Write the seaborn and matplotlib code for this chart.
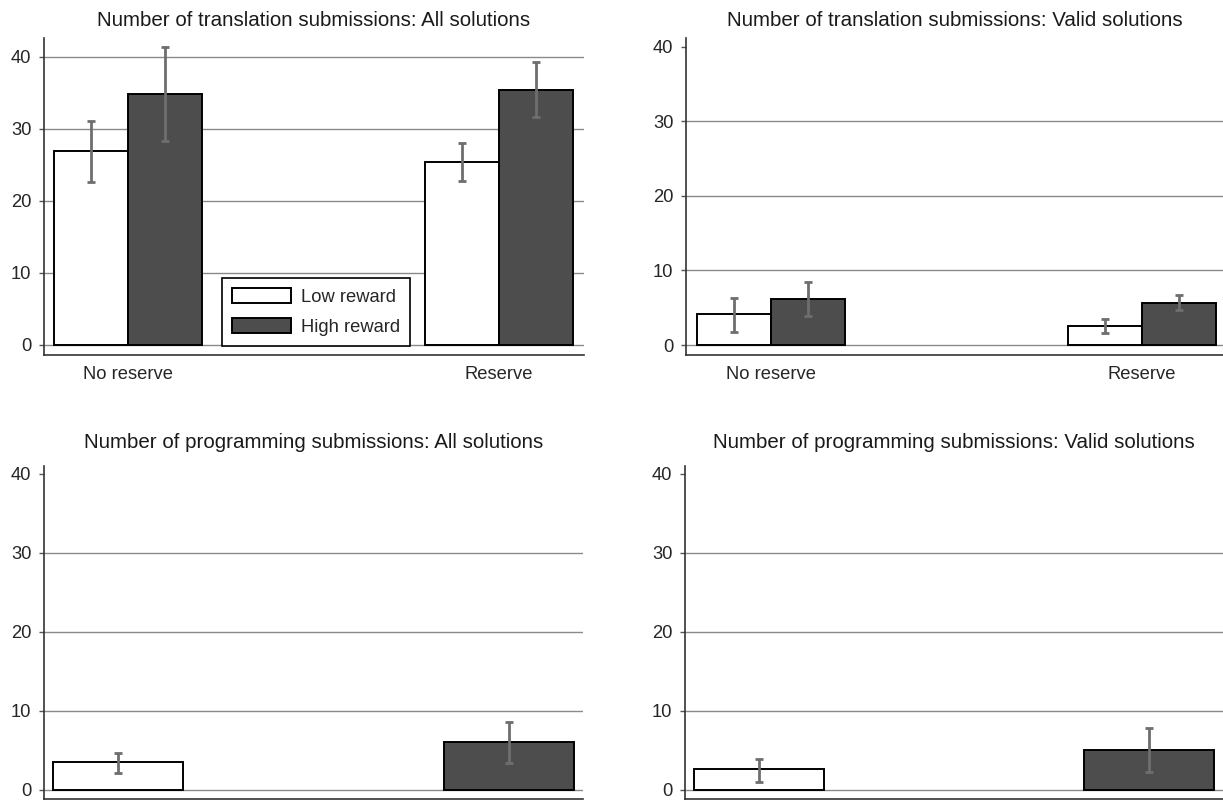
import numpy as np
import pandas as pd
import matplotlib
matplotlib.use("Agg")
import matplotlib.pyplot as plt
import seaborn as sns

treat = ["No reserve", "Reserve"]
reward = ["Low reward", "High reward"]

# translation panels, order: NR-low, NR-high, R-low, R-high
trans_all_mean = [26.9, 34.8, 25.4, 35.4]
trans_all_lo = [22.6, 28.3, 22.8, 31.7]
trans_all_hi = [31.1, 41.3, 28.0, 39.2]

trans_valid_mean = [4.1, 6.2, 2.6, 5.7]
trans_valid_lo = [1.8, 3.9, 1.6, 4.65]
trans_valid_hi = [6.35, 8.4, 3.5, 6.7]

# programming panels, order: low, high
prog_all_mean = [3.5, 6.1]
prog_all_lo = [2.2, 3.4]
prog_all_hi = [4.7, 8.6]

prog_valid_mean = [2.6, 5.1]
prog_valid_lo = [1.0, 2.3]
prog_valid_hi = [3.9, 7.8]

colors = {"Low reward": "white", "High reward": "#4d4d4d"}
err_col = "#6e6e6e"
FS = 13.2      # ticks / legend
TFS = 14.8     # titles

sns.set_style("white")
plt.rcParams["font.family"] = ["Liberation Sans", "DejaVu Sans"]

fig = plt.figure(figsize=(12.23, 8), dpi=100)
W, H = 1223, 800


def box(x0, x1, ytop, ybot):
    return [x0 / W, 1 - ybot / H, (x1 - x0) / W, (ybot - ytop) / H]


def style(ax, title, ylim, pad):
    ax.set_ylim(*ylim)
    ax.set_yticks([0, 10, 20, 30, 40])
    ax.set_axisbelow(True)
    ax.yaxis.grid(True, color="#8a8a8a", lw=1.0)
    for v, g in zip([0, 10, 20, 30, 40], ax.get_ygridlines()):
        if ylim[1] - v < 1.5:
            g.set_visible(False)
    ax.set_xlabel("")
    ax.set_ylabel("")
    ax.set_title(title, fontsize=TFS, pad=pad, color="#1a1a1a")
    for s in ["top", "right"]:
        ax.spines[s].set_visible(False)
    for s in ["left", "bottom"]:
        ax.spines[s].set_color("#333333")
        ax.spines[s].set_linewidth(1.2)
    ax.tick_params(axis="y", length=3.6, width=1, color="#555555",
                   pad=5.5, labelsize=FS, left=True)
    ax.tick_params(axis="x", length=0, pad=8, labelsize=FS)


def errbars(ax, lo, hi):
    bars = sorted([p for p in ax.patches if p.get_height() > 0],
                  key=lambda p: p.get_x())
    xs = [p.get_x() + p.get_width() / 2 for p in bars]
    ys = np.array([p.get_height() for p in bars])
    ax.errorbar(xs, ys, yerr=[ys - np.array(lo), np.array(hi) - ys],
                fmt="none", ecolor=err_col, elinewidth=2.0, capsize=3,
                capthick=2.0, zorder=5)


def trans_panel(rect, mean, lo, hi, title, ylim, xlim, legend):
    ax = fig.add_axes(rect)
    df = pd.DataFrame({
        "treat": np.repeat(treat, 2),
        "reward": reward * 2,
        "mean": mean,
    })
    sns.barplot(data=df, x="treat", y="mean", hue="reward", order=treat,
                hue_order=reward, palette=colors, edgecolor="black",
                linewidth=1.4, width=0.4, errorbar=None, saturation=1,
                legend=legend, ax=ax)
    errbars(ax, lo, hi)
    ax.set_xlim(*xlim)
    style(ax, title, ylim, 8.5)
    if legend:
        sns.move_legend(ax, "lower right", bbox_to_anchor=(0.678, 0.028),
                        title=None, frameon=True, fancybox=False,
                        edgecolor="black", framealpha=1, fontsize=FS,
                        handlelength=3.2, handleheight=0.85,
                        labelspacing=0.7, handletextpad=0.55,
                        borderpad=0.55, borderaxespad=0)
        ax.get_legend().get_frame().set_linewidth(1.2)
    return ax


def prog_panel(rect, mean, lo, hi, title, ylim, xlim):
    ax = fig.add_axes(rect)
    df = pd.DataFrame({"reward": reward, "mean": mean})
    sns.barplot(data=df, x="reward", y="mean", hue="reward", order=reward,
                hue_order=reward, palette=colors, edgecolor="black",
                linewidth=1.4, width=0.333, errorbar=None, saturation=1,
                legend=False, ax=ax)
    errbars(ax, lo, hi)
    ax.set_xlim(*xlim)
    style(ax, title, ylim, 13)
    # category labels fall below the cropped edge in the reference
    ax.set_xticklabels([])
    return ax


trans_panel(box(44, 584, 38, 355), trans_all_mean, trans_all_lo, trans_all_hi,
            "Number of translation submissions: All solutions",
            (-1.4, 42.6), (-0.226, 1.229), True)
trans_panel(box(686, 1223, 38, 355), trans_valid_mean, trans_valid_lo,
            trans_valid_hi,
            "Number of translation submissions: Valid solutions",
            (-1.34, 41.2), (-0.229, 1.218), False)
prog_panel(box(44, 583, 466, 799), prog_all_mean, prog_all_lo, prog_all_hi,
           "Number of programming submissions: All solutions",
           (-1.14, 41.0), (-0.19, 1.19))
prog_panel(box(685, 1223, 466, 799), prog_valid_mean, prog_valid_lo,
           prog_valid_hi,
           "Number of programming submissions: Valid solutions",
           (-1.14, 41.0), (-0.19, 1.19))

fig.savefig("out.png", dpi=100)
